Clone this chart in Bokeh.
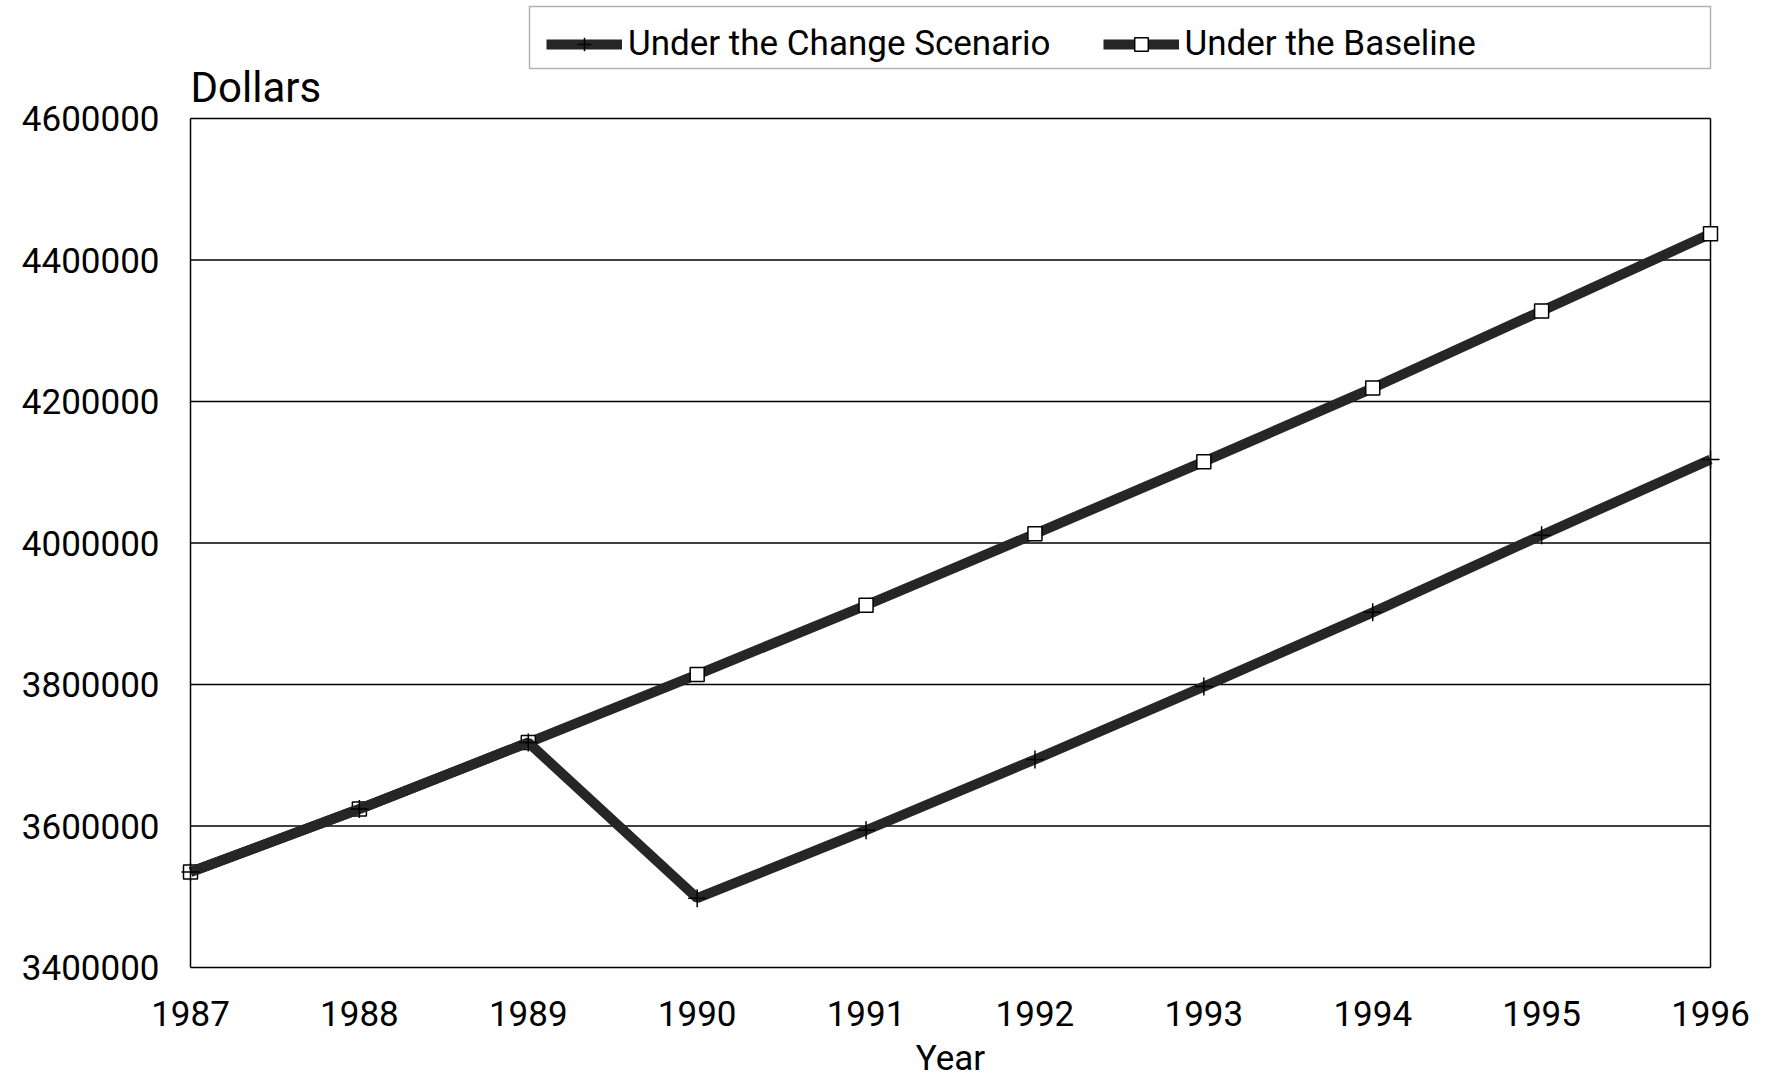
from bokeh.plotting import figure
from bokeh.models import (FixedTicker, BasicTickFormatter, Legend, LegendItem,
                          Label, BoxAnnotation, Range1d)
from bokeh.embed import file_html
from bokeh.resources import INLINE

years = [1987, 1988, 1989, 1990, 1991, 1992, 1993, 1994, 1995, 1996]
change = [3535000, 3624000, 3718000, 3498000, 3594000, 3694000, 3797000, 3902000, 4011000, 4118000]
baseline = [3535000, 3624000, 3718000, 3814000, 3912000, 4013000, 4115000, 4219000, 4328000, 4437000]
y_ticks = [3400000, 3600000, 3800000, 4000000, 4200000, 4400000, 4600000]
series_names = ["Under the Change Scenario", "Under the Baseline"]

FONT = "Roboto"
LINE = "#262626"

# ---- layout constants (page pixels) ----
W, H = 1781, 1081
BOX_L, BOX_R, BOX_T, BOX_B = 190, 1710, 118, 967    # visible plot box
PAD_X, PAD_B = 10, 2                                # frame slack around the box
FRAME_L, FRAME_R = BOX_L - PAD_X, BOX_R + PAD_X
FRAME_T, FRAME_B = 0, BOX_B + PAD_B

x0, x1 = years[0], years[-1]
y0, y1 = y_ticks[0], y_ticks[-1]
ppx = (BOX_R - BOX_L) / (x1 - x0)      # px per year
ppy = (BOX_B - BOX_T) / (y1 - y0)      # px per dollar

def xd(px):
    return x0 + (px - BOX_L) / ppx

def yd(py):
    return y0 + (BOX_B - py) / ppy

p = figure(width=W, height=H, output_backend="svg", toolbar_location=None,
           x_range=Range1d(xd(FRAME_L), xd(FRAME_R)),
           y_range=Range1d(yd(FRAME_B), yd(FRAME_T)))
p.title.visible = False
p.min_border_left = FRAME_L
p.min_border_right = W - FRAME_R
p.min_border_top = FRAME_T
p.min_border_bottom = H - FRAME_B
p.background_fill_color = "white"
p.border_fill_color = "white"
p.outline_line_color = None

# horizontal grid lines, limited to the plot box
p.xgrid.visible = False
p.ygrid.visible = False
p.segment(x0=[x0] * len(y_ticks), y0=y_ticks, x1=[x1] * len(y_ticks), y1=y_ticks,
          line_color="black", line_width=1.3)
# vertical sides of the plot box
p.segment(x0=[x0, x1], y0=[y0, y0], x1=[x0, x1], y1=[y1, y1],
          line_color="black", line_width=1.5)

p.xaxis.ticker = FixedTicker(ticks=years)
p.yaxis.ticker = FixedTicker(ticks=y_ticks)
p.yaxis.formatter = BasicTickFormatter(use_scientific=False)
for ax in (p.xaxis, p.yaxis):
    ax.axis_line_color = None
    ax.major_tick_line_color = None
    ax.minor_tick_line_color = None
    ax.major_tick_out = 0
    ax.major_tick_in = 0
    ax.major_label_text_font = FONT
    ax.major_label_text_font_size = "35px"
    ax.major_label_text_color = "black"
p.xaxis.major_label_standoff = 31
p.yaxis.major_label_standoff = 21
p.xaxis.axis_label = "Year"
p.xaxis.axis_label_text_font = FONT
p.xaxis.axis_label_text_font_size = "35px"
p.xaxis.axis_label_text_font_style = "normal"
p.xaxis.axis_label_text_color = "black"
p.xaxis.axis_label_standoff = 9

# Baseline series
bl_line = p.line(years, baseline, line_color=LINE, line_width=10)
bl_mark = p.scatter(years, baseline, marker="square", size=14, fill_color="white",
                    line_color="black", line_width=1.5)
# Change scenario series
ch_line = p.line(years, change, line_color=LINE, line_width=10)
ch_mark = p.scatter(years, change, marker="cross", size=18, line_color="black",
                    line_width=1.5)

# y-axis title above the plot box
p.add_layout(Label(x=x0, y=yd(87), text="Dollars", text_font=FONT,
                   text_font_size="42px", text_baseline="middle", text_color="black"))

# legend frame
p.add_layout(BoxAnnotation(left=xd(529), right=x1, top=yd(6), bottom=yd(68),
                           fill_color="white", fill_alpha=1,
                           line_color="black", line_width=1.5))

legend = Legend(items=[LegendItem(label=series_names[0], renderers=[ch_line, ch_mark]),
                       LegendItem(label=series_names[1], renderers=[bl_line, bl_mark])],
                orientation="horizontal", location=(536 - FRAME_L, FRAME_B - 74),
                label_text_font=FONT, label_text_font_size="35px",
                label_text_color="black",
                glyph_width=76, glyph_height=34, label_standoff=6, spacing=52,
                padding=10, margin=0, border_line_alpha=0, background_fill_alpha=0)
p.add_layout(legend, "center")

open("out.html", "w").write(file_html(p, INLINE))
